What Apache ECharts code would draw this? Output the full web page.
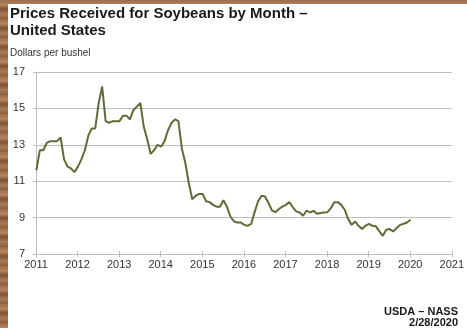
<!DOCTYPE html>
<html>
<head>
<meta charset="utf-8">
<script src="https://cdn.jsdelivr.net/npm/echarts@6/dist/echarts.min.js"></script>
<style>
html,body{margin:0;padding:0;width:467px;height:328px;overflow:hidden;}
body{background:repeating-linear-gradient(180deg,#9c6b47 0px,#b5855e 5px,#7e5134 9px,#a97a54 14px,#8d5e3d 19px);position:relative;}
#panel{position:absolute;left:8px;top:4px;width:459px;height:324px;background:#fff;}
#chart{position:absolute;left:0;top:0;width:467px;height:328px;}
</style>
</head>
<body>
<div id="panel"></div>
<div id="chart"></div>
<script>
const years = [2011, 2012, 2013, 2014, 2015, 2016, 2017, 2018, 2019, 2020];
const prices2011 = [11.6, 12.7, 12.7, 13.1, 13.2, 13.2, 13.2, 13.4, 12.2, 11.8, 11.7, 11.5];
const prices2012 = [11.8, 12.2, 12.7, 13.5, 13.9, 13.9, 15.3, 16.2, 14.3, 14.2, 14.3, 14.3];
const prices2013 = [14.3, 14.6, 14.6, 14.4, 14.9, 15.1, 15.3, 14.0, 13.3, 12.5, 12.7, 13.0];
const prices2014 = [12.9, 13.2, 13.8, 14.2, 14.4, 14.3, 12.8, 12.0, 10.9, 10.0, 10.2, 10.3];
const prices2015 = [10.3, 9.9, 9.85, 9.7, 9.6, 9.6, 9.95, 9.6, 9.06, 8.8, 8.73, 8.73];
const prices2016 = [8.6, 8.55, 8.65, 9.3, 9.9, 10.2, 10.16, 9.8, 9.4, 9.3, 9.47, 9.6];
const prices2017 = [9.7, 9.85, 9.58, 9.34, 9.28, 9.1, 9.39, 9.28, 9.37, 9.21, 9.25, 9.28];
const prices2018 = [9.3, 9.52, 9.85, 9.85, 9.7, 9.43, 8.92, 8.6, 8.79, 8.55, 8.37, 8.55];
const prices2019 = [8.66, 8.55, 8.52, 8.24, 8.0, 8.33, 8.37, 8.24, 8.43, 8.6, 8.66, 8.73];
const prices2020 = [8.88];
const yTicks = [7, 9, 11, 13, 15, 17];
const xTickYears = [2011, 2012, 2013, 2014, 2015, 2016, 2017, 2018, 2019, 2020, 2021];

const byYear = [prices2011, prices2012, prices2013, prices2014, prices2015, prices2016, prices2017, prices2018, prices2019, prices2020];
const seriesData = [];
byYear.forEach((arr, i) => {
  arr.forEach((v, m) => seriesData.push([years[i] + (m + 0.1) / 12, v]));
});

const chart = echarts.init(document.getElementById('chart'), null, {renderer: 'canvas'});
const axisColor = '#bdbdbd';
const labelStyle = {color: '#333', fontSize: 11, fontFamily: 'Liberation Sans, Arial, sans-serif'};
chart.setOption({
  animation: false,
  backgroundColor: 'transparent',
  grid: {left: 36, right: 10, top: 72, bottom: 74},
  xAxis: [{
    type: 'value', min: xTickYears[0], max: xTickYears[xTickYears.length - 1], interval: 1,
    axisLine: {show: true, lineStyle: {color: axisColor, width: 1}},
    axisTick: {show: true, length: 3, lineStyle: {color: axisColor}},
    axisLabel: Object.assign({margin: 5, formatter: v => String(v)}, labelStyle),
    splitLine: {show: false}
  }, {
    type: 'value', position: 'bottom', min: xTickYears[0], max: xTickYears[xTickYears.length - 1], interval: 1,
    axisLine: {show: false},
    axisTick: {show: true, inside: true, length: 3, lineStyle: {color: axisColor}},
    axisLabel: {show: false}, splitLine: {show: false}
  }],
  yAxis: [{
    type: 'value', min: yTicks[0], max: yTicks[yTicks.length - 1], interval: 2,
    axisLine: {show: true, lineStyle: {color: axisColor, width: 1}},
    axisTick: {show: true, length: 3, lineStyle: {color: axisColor}},
    axisLabel: Object.assign({margin: 11}, labelStyle),
    splitLine: {show: true, lineStyle: {color: axisColor, width: 1}}
  }],
  graphic: [
    {type: 'text', left: 10, top: 6, style: {text: 'Prices Received for Soybeans by Month –', fill: '#1a1a1a', font: 'bold 15px "Liberation Sans", Arial, sans-serif'}},
    {type: 'text', left: 10, top: 23, style: {text: 'United States', fill: '#1a1a1a', font: 'bold 15px "Liberation Sans", Arial, sans-serif'}},
    {type: 'text', left: 10, top: 48, style: {text: 'Dollars per bushel', fill: '#333', font: '10px "Liberation Sans", Arial, sans-serif'}},
    {type: 'text', right: 9, top: 306, style: {text: 'USDA – NASS', fill: '#1a1a1a', font: 'bold 11px "Liberation Sans", Arial, sans-serif', align: 'right'}},
    {type: 'text', right: 9, top: 317, style: {text: '2/28/2020', fill: '#1a1a1a', font: 'bold 11px "Liberation Sans", Arial, sans-serif', align: 'right'}}
  ],
  series: [{
    type: 'line', data: seriesData, showSymbol: false, symbol: 'none',
    lineStyle: {color: '#5c6e36', width: 2}, xAxisIndex: 0, yAxisIndex: 0
  }]
});
</script>
</body>
</html>
